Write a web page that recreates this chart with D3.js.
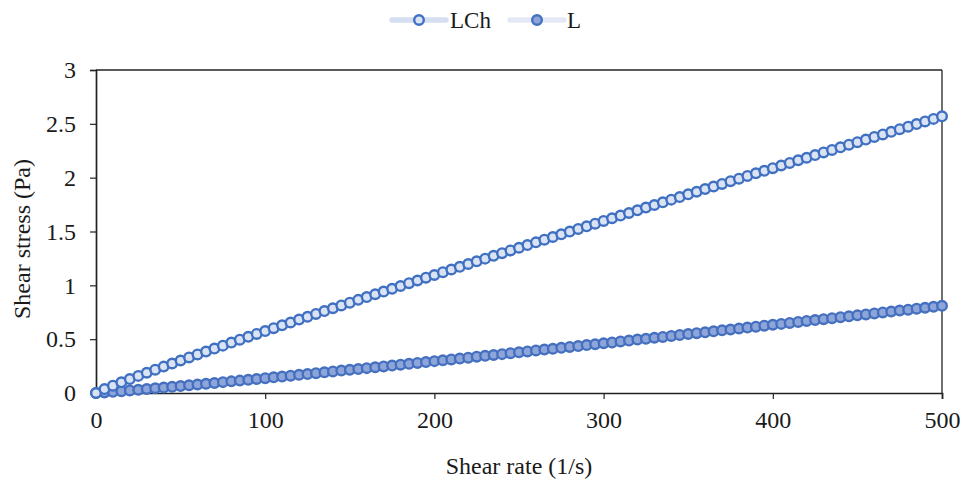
<!DOCTYPE html>
<html><head><meta charset="utf-8">
<script src="https://cdn.jsdelivr.net/npm/d3@7"></script>
<style>body{margin:0;background:#fff}svg{display:block}svg text{font-family:'Liberation Serif','Times New Roman',Tinos,'DejaVu Serif',serif !important;fill:#1a1a1a}</style>
</head><body><svg id="c" width="968" height="479" font-family="Liberation Serif, serif"></svg>
<script>
const shearRate = d3.range(0, 501, 5);
const seriesNames = ["LCh", "L"];
const LCh = [0,0.036,0.068,0.099,0.129,0.159,0.188,0.217,0.245,0.274,0.302,0.330,0.358,0.385,0.413,0.440,0.468,0.495,0.522,0.549,0.575,0.602,0.629,0.655,0.682,0.708,0.734,0.761,0.787,0.813,0.839,0.865,0.891,0.917,0.942,0.968,0.994,1.020,1.045,1.071,1.096,1.122,1.147,1.172,1.198,1.223,1.248,1.274,1.299,1.324,1.349,1.374,1.399,1.424,1.449,1.474,1.499,1.524,1.548,1.573,1.598,1.623,1.648,1.672,1.697,1.722,1.746,1.771,1.796,1.820,1.845,1.869,1.894,1.918,1.942,1.967,1.991,2.016,2.040,2.064,2.088,2.113,2.137,2.161,2.185,2.210,2.234,2.258,2.282,2.306,2.330,2.354,2.378,2.402,2.426,2.450,2.474,2.498,2.522,2.546,2.570];
const L = [0,0.005,0.011,0.017,0.024,0.030,0.037,0.044,0.050,0.057,0.064,0.072,0.079,0.086,0.093,0.101,0.108,0.115,0.123,0.130,0.138,0.146,0.153,0.161,0.169,0.176,0.184,0.192,0.200,0.208,0.215,0.223,0.231,0.239,0.247,0.255,0.263,0.271,0.279,0.288,0.296,0.304,0.312,0.320,0.328,0.337,0.345,0.353,0.361,0.370,0.378,0.386,0.395,0.403,0.411,0.420,0.428,0.436,0.445,0.453,0.462,0.470,0.479,0.487,0.496,0.504,0.513,0.521,0.530,0.539,0.547,0.556,0.564,0.573,0.582,0.590,0.599,0.608,0.616,0.625,0.634,0.642,0.651,0.660,0.669,0.677,0.686,0.695,0.704,0.713,0.721,0.730,0.739,0.748,0.757,0.766,0.774,0.783,0.792,0.801,0.810];
const xTicks = [0,100,200,300,400,500];
const yTicks = [0,0.5,1,1.5,2,2.5,3];

const FONT = "'Liberation Serif','Times New Roman',Tinos,'DejaVu Serif',serif";
const FS = "24px";
const svg = d3.select("#c");
const x = d3.scaleLinear().domain([0,500]).range([96,942]);
const y = d3.scaleLinear().domain([0,3]).range([393,70]);

svg.append("line").attr("x1",96).attr("x2",942).attr("y1",70).attr("y2",70).attr("stroke","#222").attr("stroke-width",1.3);
svg.append("line").attr("x1",942).attr("x2",942).attr("y1",70).attr("y2",393).attr("stroke","#222").attr("stroke-width",1.3);

const gx = svg.append("g").attr("transform","translate(0,393)")
  .call(d3.axisBottom(x).tickValues(xTicks).tickSize(6).tickPadding(12).tickFormat(d3.format("d")));
const gy = svg.append("g").attr("transform","translate(96,0)")
  .call(d3.axisLeft(y).tickValues(yTicks).tickSize(6).tickPadding(14).tickFormat(d=>String(d)));
[gx,gy].forEach(g=>{
  g.attr("font-family",FONT).attr("font-size",24);
  g.select(".domain").attr("stroke","#222").attr("stroke-width",1.7);
  g.selectAll(".tick line").attr("stroke","#222").attr("stroke-width",1.2);
  g.selectAll("text").style("font-size",FS).style("font-family",FONT).attr("fill","#1a1a1a");
});

svg.append("text").attr("x",519).attr("y",474).attr("text-anchor","middle").style("font-size",FS).style("font-family",FONT).text("Shear rate (1/s)");
svg.append("text").attr("transform","translate(30,239) rotate(-90)").attr("text-anchor","middle").style("font-size",FS).style("font-family",FONT).text("Shear stress (Pa)");

const styles = {
  LCh: {line:"#d5dff1", fill:"#dae3f3", stroke:"#4070c2", data:LCh},
  L:   {line:"#e4e9f5", fill:"#8ea5d9", stroke:"#4570c0", data:L}
};
const lineGen = d3.line().x((d,i)=>x(shearRate[i])).y(d=>y(d));
seriesNames.slice().reverse().forEach(name=>{
  const s = styles[name];
  svg.append("path").datum(s.data).attr("d",lineGen).attr("fill","none").attr("stroke",s.line).attr("stroke-width",5);
});
seriesNames.slice().reverse().forEach(name=>{
  const s = styles[name];
  svg.append("g").selectAll("circle").data(s.data).join("circle")
    .attr("cx",(d,i)=>x(shearRate[i])).attr("cy",d=>y(d)).attr("r",4.8)
    .attr("fill",s.fill).attr("stroke",s.stroke).attr("stroke-width",2.4);
});

const leg = [{name:"LCh", x0:392, x1:446, tx:450},{name:"L", x0:510, x1:564, tx:567}];
leg.forEach(l=>{
  const s = styles[l.name];
  svg.append("line").attr("x1",l.x0).attr("x2",l.x1).attr("y1",20).attr("y2",20).attr("stroke",s.line).attr("stroke-width",5.5).attr("stroke-linecap","round");
  svg.append("circle").attr("cx",(l.x0+l.x1)/2).attr("cy",20).attr("r",4.8).attr("fill",s.fill).attr("stroke",s.stroke).attr("stroke-width",2.4);
  svg.append("text").attr("x",l.tx).attr("y",28).style("font-size","23px").style("font-family",FONT).text(l.name);
});
</script></body></html>
